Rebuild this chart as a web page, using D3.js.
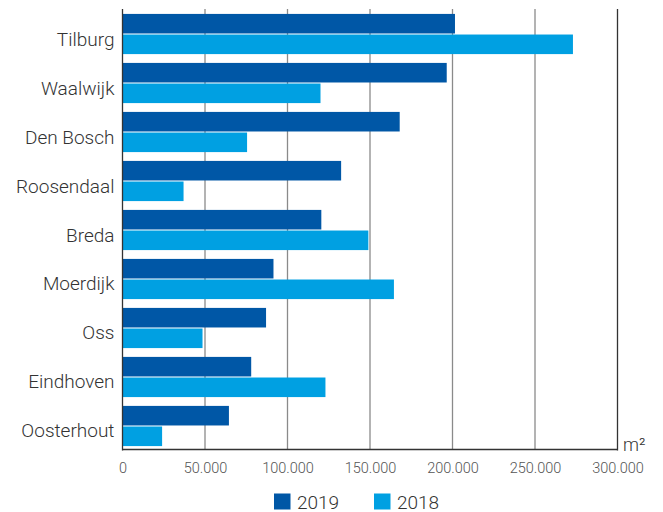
<!DOCTYPE html>
<html>
<head>
<meta charset="utf-8">
<script src="https://cdn.jsdelivr.net/npm/d3@7"></script>
<style>
  html, body { margin: 0; padding: 0; background: #fff; }
  svg { display: block; }
  text { font-family: Roboto, "Open Sans", sans-serif; font-weight: 300; }
</style>
</head>
<body>
<svg id="chart" width="663" height="512"></svg>
<script>
const categories = ["Tilburg", "Waalwijk", "Den Bosch", "Roosendaal", "Breda", "Moerdijk", "Oss", "Eindhoven", "Oosterhout"];
const seriesNames = ["2019", "2018"];
const values2019 = [201500, 196500, 168000, 132500, 120500, 91500, 87000, 78000, 64500];
const values2018 = [273000, 120000, 75500, 37000, 149000, 164500, 48500, 123000, 24000];
const tickValues = [0, 50000, 100000, 150000, 200000, 250000, 300000];
const colors = ["#0057a6", "#00a0e2"];
const unitLabel = "m²";

const FONT = "Roboto, 'Open Sans', sans-serif";
const svg = d3.select("#chart");
const x = d3.scaleLinear().domain([0, 300000]).range([122.5, 617.5]);
const y = d3.scaleBand().domain(categories).range([10, 450]).paddingInner(0.18).paddingOuter(0.08);
const ySub = d3.scaleBand().domain(seriesNames).range([0, y.bandwidth()]).paddingInner(0.05);

const fmt = v => d3.format(",")(v).replace(/,/g, ".");

// gridlines
svg.append("g").selectAll("line").data(tickValues.slice(1, -1)).join("line")
  .attr("x1", d => x(d)).attr("x2", d => x(d))
  .attr("y1", 9).attr("y2", 450)
  .attr("stroke", "#8a8a8a").attr("stroke-width", 1.3);

// bars
const data = categories.map((c, i) => ({ cat: c, vals: [values2019[i], values2018[i]] }));
const groups = svg.append("g").selectAll("g").data(data).join("g")
  .attr("transform", d => `translate(0,${y(d.cat)})`);
groups.selectAll("rect").data(d => d.vals.map((v, j) => ({ v, s: seriesNames[j], j }))).join("rect")
  .attr("x", x(0))
  .attr("y", d => ySub(d.s))
  .attr("width", d => x(d.v) - x(0))
  .attr("height", ySub.bandwidth())
  .attr("fill", d => colors[d.j]);

// frame lines: left axis, bottom axis, right line
svg.append("line").attr("x1", x(0)).attr("x2", x(0)).attr("y1", 9).attr("y2", 450.5)
  .attr("stroke", "#333").attr("stroke-width", 1.3);
svg.append("line").attr("x1", x(300000)).attr("x2", x(300000)).attr("y1", 9).attr("y2", 450.5)
  .attr("stroke", "#333").attr("stroke-width", 1.3);
svg.append("line").attr("x1", x(0)).attr("x2", x(300000)).attr("y1", 449.5).attr("y2", 449.5)
  .attr("stroke", "#333").attr("stroke-width", 1.3);

// x tick labels
const xAxis = d3.axisBottom(x).tickValues(tickValues).tickFormat(fmt).tickSize(0).tickPadding(0);
const gx = svg.append("g").attr("transform", "translate(0,463)").call(xAxis);
gx.select(".domain").remove();
gx.selectAll("text").attr("font-size", 14.5).attr("fill", "#555").attr("dy", "0.71em")
  .style("font-family", FONT).style("font-weight", 300);

// y labels
const yAxis = d3.axisLeft(y).tickSize(0).tickPadding(8);
const gy = svg.append("g").attr("transform", `translate(${x(0)},0)`).call(yAxis);
gy.select(".domain").remove();
gy.selectAll("text").attr("font-size", 19).attr("fill", "#333").attr("dy", 11.5)
  .style("font-family", FONT).style("font-weight", 300);

// unit label
svg.append("text").attr("x", 623).attr("y", 451).attr("font-size", 18).attr("fill", "#333").text(unitLabel);

// legend
const legendX = [274, 374];
const lg = svg.append("g").selectAll("g").data(seriesNames).join("g")
  .attr("transform", (d, i) => `translate(${legendX[i]},493.5)`);
lg.append("rect").attr("width", 16.5).attr("height", 16).attr("fill", (d, i) => colors[i]);
lg.append("text").attr("x", 23).attr("y", 15).attr("font-size", 19).attr("fill", "#333").text(d => d);
</script>
</body>
</html>
